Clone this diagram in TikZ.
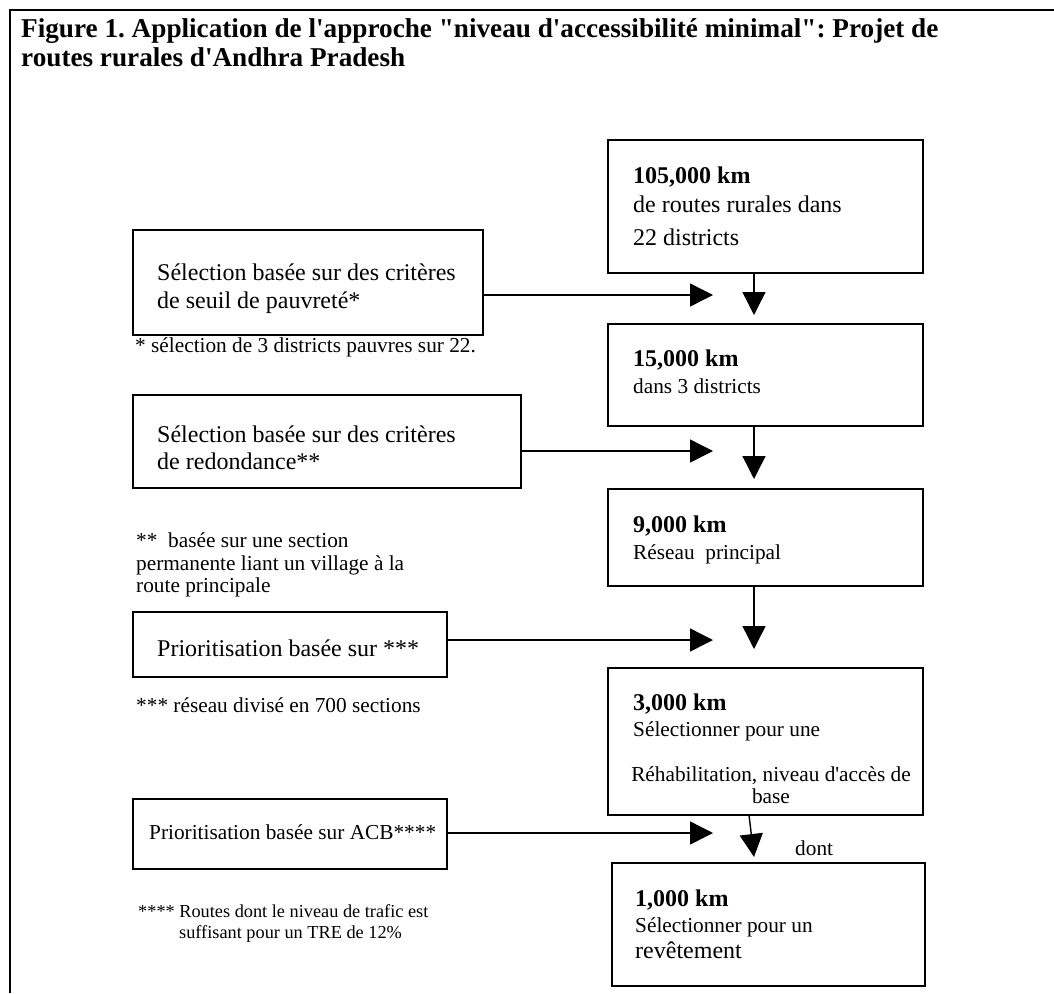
\documentclass[tikz,border=0pt]{standalone}
\usepackage{fontspec}
\setmainfont{Liberation Serif}[Ligatures=TeXOff]
\usetikzlibrary{arrows.meta}
\frenchspacing
\begin{document}
\begin{tikzpicture}[x=1pt,y=-1pt,
  box/.style={draw, line width=1.8pt, inner sep=0pt, outer sep=0pt, anchor=north west},
  arr/.style={line width=1.4pt, -{Triangle[width=23pt,length=23pt]}},
  txt/.style={anchor=base west, inner sep=0pt, font=\fontsize{24}{29}\selectfont},
  txtm/.style={anchor=base west, inner sep=0pt, font=\fontsize{21.3}{26}\selectfont},
  hd/.style={anchor=base west, inner sep=0pt, font=\fontsize{24}{29}\selectfont\bfseries},
  note/.style={anchor=base west, inner sep=0pt, font=\fontsize{21.3}{23}\selectfont, align=left},
  ttl/.style={anchor=base west, inner sep=0pt, font=\fontsize{27.2}{29}\selectfont\bfseries}]
\useasboundingbox (0,0) rectangle (1054,993);
\fill[white] (0,0) rectangle (1054,993);
% outer frame
\draw[line width=2pt] (10,993) -- (10,10) -- (1054,10);
% title
\node[ttl] (t1) at (21,37) {Figure 1. Application de l'approche "niveau d'accessibilité minimal": Projet de};
\node[ttl] (t2) at (21,66) {routes rurales d'Andhra Pradesh};
% right column boxes
\node[box, minimum width=315pt, minimum height=133pt] (b1) at (608,140) {};
\node[box, minimum width=315pt, minimum height=102pt] (b2) at (608,324) {};
\node[box, minimum width=315pt, minimum height=97pt] (b3) at (608,489) {};
\node[box, minimum width=315pt, minimum height=147pt] (b4) at (608,668) {};
\node[box, minimum width=313pt, minimum height=123pt] (b5) at (612,863) {};
% left boxes
\node[box, minimum width=350pt, minimum height=105pt] (la) at (133,230) {};
\node[box, minimum width=388pt, minimum height=93pt] (lb) at (133,395) {};
\node[box, minimum width=314pt, minimum height=65pt] (lc) at (133,612) {};
\node[box, minimum width=314pt, minimum height=70pt] (ld) at (133,799) {};
% right box texts
\node[hd] (b1h) at (633,183) {105,000 km};
\node[txt] (b1a) at (633,212) {de routes rurales dans};
\node[txt] (b1b) at (633,245) {22 districts};
\node[hd] (b2h) at (633,366) {15,000 km};
\node[txtm] (b2a) at (633,393) {dans 3 districts};
\node[hd] (b3h) at (633,532) {9,000 km};
\node[txtm] (b3a) at (633,559) {Réseau\ \ principal};
\node[hd] (b4h) at (633,710) {3,000 km};
\node[txtm] (b4a) at (633,736) {Sélectionner pour une};
\node[txtm, anchor=base] (b4b) at (771,781) {Réhabilitation, niveau d'accès de};
\node[txtm, anchor=base] (b4c) at (771,803) {base};
\node[txtm] (dont) at (795,855) {dont};
\node[hd] (b5h) at (635,906) {1,000 km};
\node[txtm] (b5a) at (635,932) {Sélectionner pour un};
\node[txt] (b5b) at (635,958) {revêtement};
% left box texts
\node[txt] (laa) at (157,280) {Sélection basée sur des critères};
\node[txt] (lab) at (157,308) {de seuil de pauvreté*};
\node[txt] (lba) at (157,442) {Sélection basée sur des critères};
\node[txt] (lbb) at (157,469) {de redondance**};
\node[txt] (lca) at (157,656) {Prioritisation basée sur ***};
\node[txtm] (lda) at (149,839) {Prioritisation basée sur ACB****};
% notes
\node[note] (n1) at (135,352) {* sélection de 3 districts pauvres sur 22.};
\node[note] (n2a) at (136,547) {**\ \ basée sur une section};
\node[note] (n2b) at (136,570) {permanente liant un village à la};
\node[note] (n2c) at (136,592) {route principale};
\node[note] (n3) at (136,712) {*** réseau divisé en 700 sections};
\node[note, font=\fontsize{18.3}{20}\selectfont] (n4a) at (138,917) {**** Routes dont le niveau de trafic est};
\node[note, font=\fontsize{18.3}{20}\selectfont] (n4b) at (179,938) {suffisant pour un TRE de 12\%};
% arrow end points
\coordinate (v1) at (754,315);
\coordinate (v2) at (754,479);
\coordinate (v3) at (754,649);
\coordinate (v4) at (754,857);
\coordinate (v4s) at (749,815);
\coordinate (h1) at (713,295);
\coordinate (h2) at (713,451);
\coordinate (h3) at (713,640);
\coordinate (h4) at (713,833);
% vertical arrows
\draw[arr] (b1.south -| v1) -- (v1);
\draw[arr] (b2.south -| v2) -- (v2);
\draw[arr] (b3.south -| v3) -- (v3);
\draw[arr] (b4.south -| v4s) -- (v4);
% horizontal arrows
\draw[arr] (la.east |- h1) -- (h1);
\draw[arr] (lb.east |- h2) -- (h2);
\draw[arr] (lc.east |- h3) -- (h3);
\draw[arr] (ld.east |- h4) -- (h4);
\end{tikzpicture}
\end{document}
